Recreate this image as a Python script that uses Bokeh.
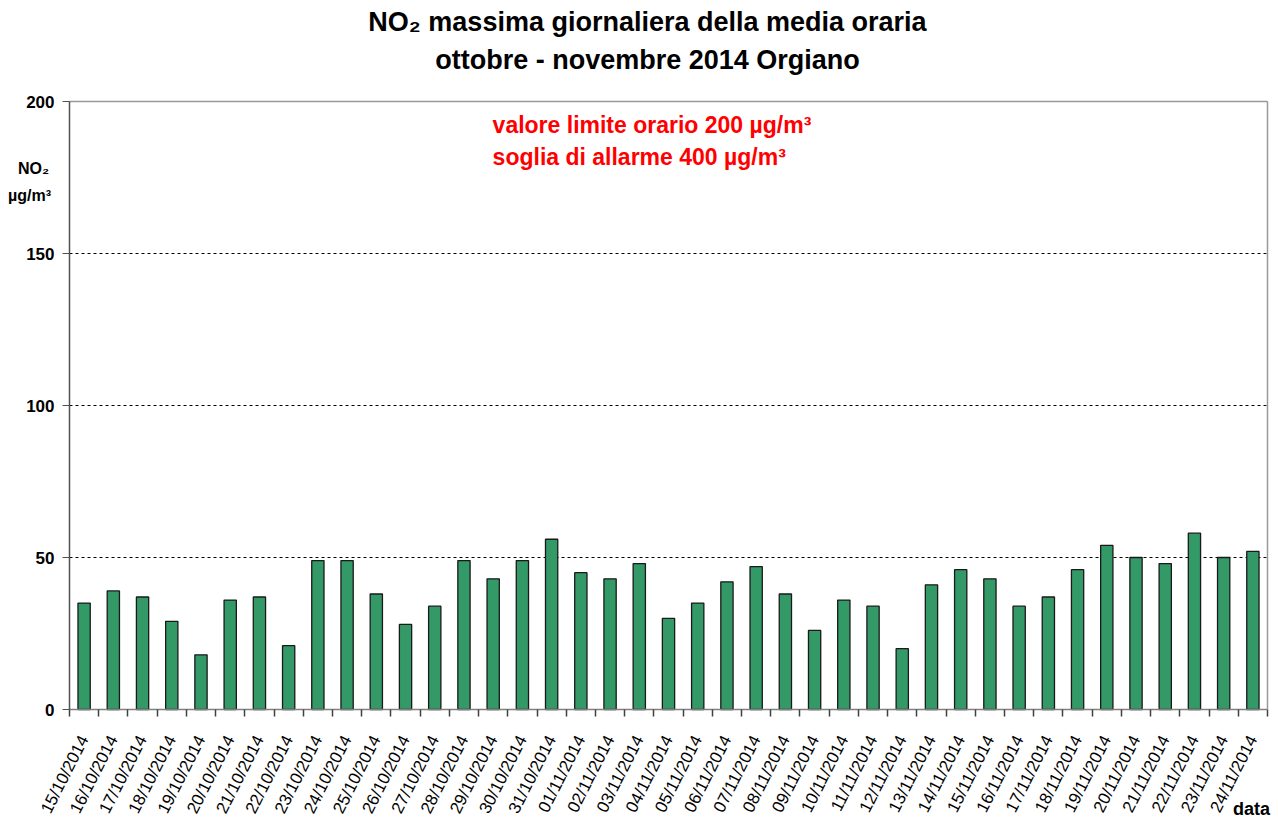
import math
from bokeh.plotting import figure
from bokeh.models import (Range1d, LinearAxis, FixedTicker, Label, CustomJSTickFormatter)
from bokeh.embed import file_html
from bokeh.resources import INLINE

dates = ["15/10/2014", "16/10/2014", "17/10/2014", "18/10/2014", "19/10/2014", "20/10/2014",
         "21/10/2014", "22/10/2014", "23/10/2014", "24/10/2014", "25/10/2014", "26/10/2014",
         "27/10/2014", "28/10/2014", "29/10/2014", "30/10/2014", "31/10/2014", "01/11/2014",
         "02/11/2014", "03/11/2014", "04/11/2014", "05/11/2014", "06/11/2014", "07/11/2014",
         "08/11/2014", "09/11/2014", "10/11/2014", "11/11/2014", "12/11/2014", "13/11/2014",
         "14/11/2014", "15/11/2014", "16/11/2014", "17/11/2014", "18/11/2014", "19/11/2014",
         "20/11/2014", "21/11/2014", "22/11/2014", "23/11/2014", "24/11/2014"]
no2 = [35, 39, 37, 29, 18, 36, 37, 21, 49, 49, 38, 28, 34, 49, 43, 49, 56, 45, 43, 48,
       30, 35, 42, 47, 38, 26, 36, 34, 20, 41, 46, 43, 34, 37, 46, 54, 50, 48, 58, 50, 52]
y_ticks = [0, 50, 100, 150, 200]
grid_ticks = [50, 100, 150]

FONT = "Liberation Sans"
n = len(dates)
xpos = [i + 0.5 for i in range(n)]
Y_MAX = 200

# The frame covers the whole canvas; the plot area is 69..1267 px wide, 101..709 px tall.
W, H = 1278, 821
PL, PR, PT, PB = 69, 1267, 101, 709
ux = (PR - PL) / n
uy = (PB - PT) / Y_MAX
x_lo, x_hi = -PL / ux, n + (W - PR) / ux
y_lo, y_hi = -(H - PB) / uy, Y_MAX + PT / uy

p = figure(width=W, height=H, x_range=Range1d(x_lo, x_hi),
           y_range=Range1d(y_lo, y_hi), output_backend="svg", toolbar_location=None,
           x_axis_location=None, y_axis_location=None, min_border=0)
p.outline_line_color = None
p.background_fill_color = "white"
p.border_fill_color = "white"
p.xgrid.visible = False
p.ygrid.visible = False

# dashed gridlines, limited to the plot area
p.segment(x0=0, x1=n, y0=grid_ticks, y1=grid_ticks, line_color="black",
          line_dash="3 3", line_width=1)
# top border of plot area
p.segment(x0=0, x1=n, y0=Y_MAX, y1=Y_MAX, line_color="#999999", line_width=1.5)

p.vbar(x=xpos, top=no2, width=0.42, fill_color="#339966", line_color="#1a1a1a", line_width=1.3)

# y axis
yax = LinearAxis(fixed_location=0, ticker=FixedTicker(ticks=y_ticks), bounds=(0, Y_MAX),
                 axis_line_color="#505050", axis_line_width=1.5,
                 major_tick_line_color="#505050", major_tick_out=7, major_tick_in=0,
                 minor_tick_out=0, minor_tick_in=0,
                 major_label_text_font=FONT, major_label_text_font_style="bold",
                 major_label_text_font_size="17px", major_label_text_color="black",
                 major_label_standoff=8)
p.add_layout(yax, "left")

# right border of plot area
rax = LinearAxis(fixed_location=n, bounds=(0, Y_MAX), ticker=FixedTicker(ticks=[]),
                 axis_line_color="#999999", axis_line_width=1.5,
                 major_tick_out=0, major_tick_in=0, minor_tick_out=0, minor_tick_in=0,
                 major_label_text_font_size="0px")
p.add_layout(rax, "right")

# x axis at zero: tick marks between categories, labels at centres
xax = LinearAxis(fixed_location=0, bounds=(0, n),
                 ticker=FixedTicker(ticks=xpos, minor_ticks=list(range(n + 1))),
                 formatter=CustomJSTickFormatter(args=dict(labels=dates),
                                                 code="return labels[Math.floor(tick)]"),
                 axis_line_color="#808080", axis_line_width=1.5,
                 major_tick_out=0, major_tick_in=0,
                 minor_tick_line_color="#404040", minor_tick_line_width=1.5,
                 minor_tick_out=7, minor_tick_in=0,
                 major_label_orientation=1.1,
                 major_label_text_font=FONT, major_label_text_font_size="17px",
                 major_label_text_color="black", major_label_standoff=20)
p.add_layout(xax, "below")

# texts
def lab(x, y, text, size, color="black", align="center"):
    p.add_layout(Label(x=x, y=y, text=text, text_font=FONT,
                       text_font_style="bold", text_font_size=size, text_color=color,
                       text_align=align, text_baseline="middle"))

lab(19.78, 226.0, "NO\u2082 massima giornaliera della media oraria", "27px")
lab(19.78, 213.5, "ottobre - novembre 2014 Orgiano", "27px")
lab(14.48, 192.4, "valore limite orario 200 \u00b5g/m\u00b3", "23px", color="#ff0000", align="left")
lab(14.48, 181.6, "soglia di allarme 400 \u00b5g/m\u00b3", "23px", color="#ff0000", align="left")
lab(-1.23, 178.0, "NO\u2082", "16px")
lab(-1.37, 169.0, "\u00b5g/m\u00b3", "16px")
lab(40.45, -32.6, "data", "18px")

open("out.html", "w").write(file_html(p, INLINE))
